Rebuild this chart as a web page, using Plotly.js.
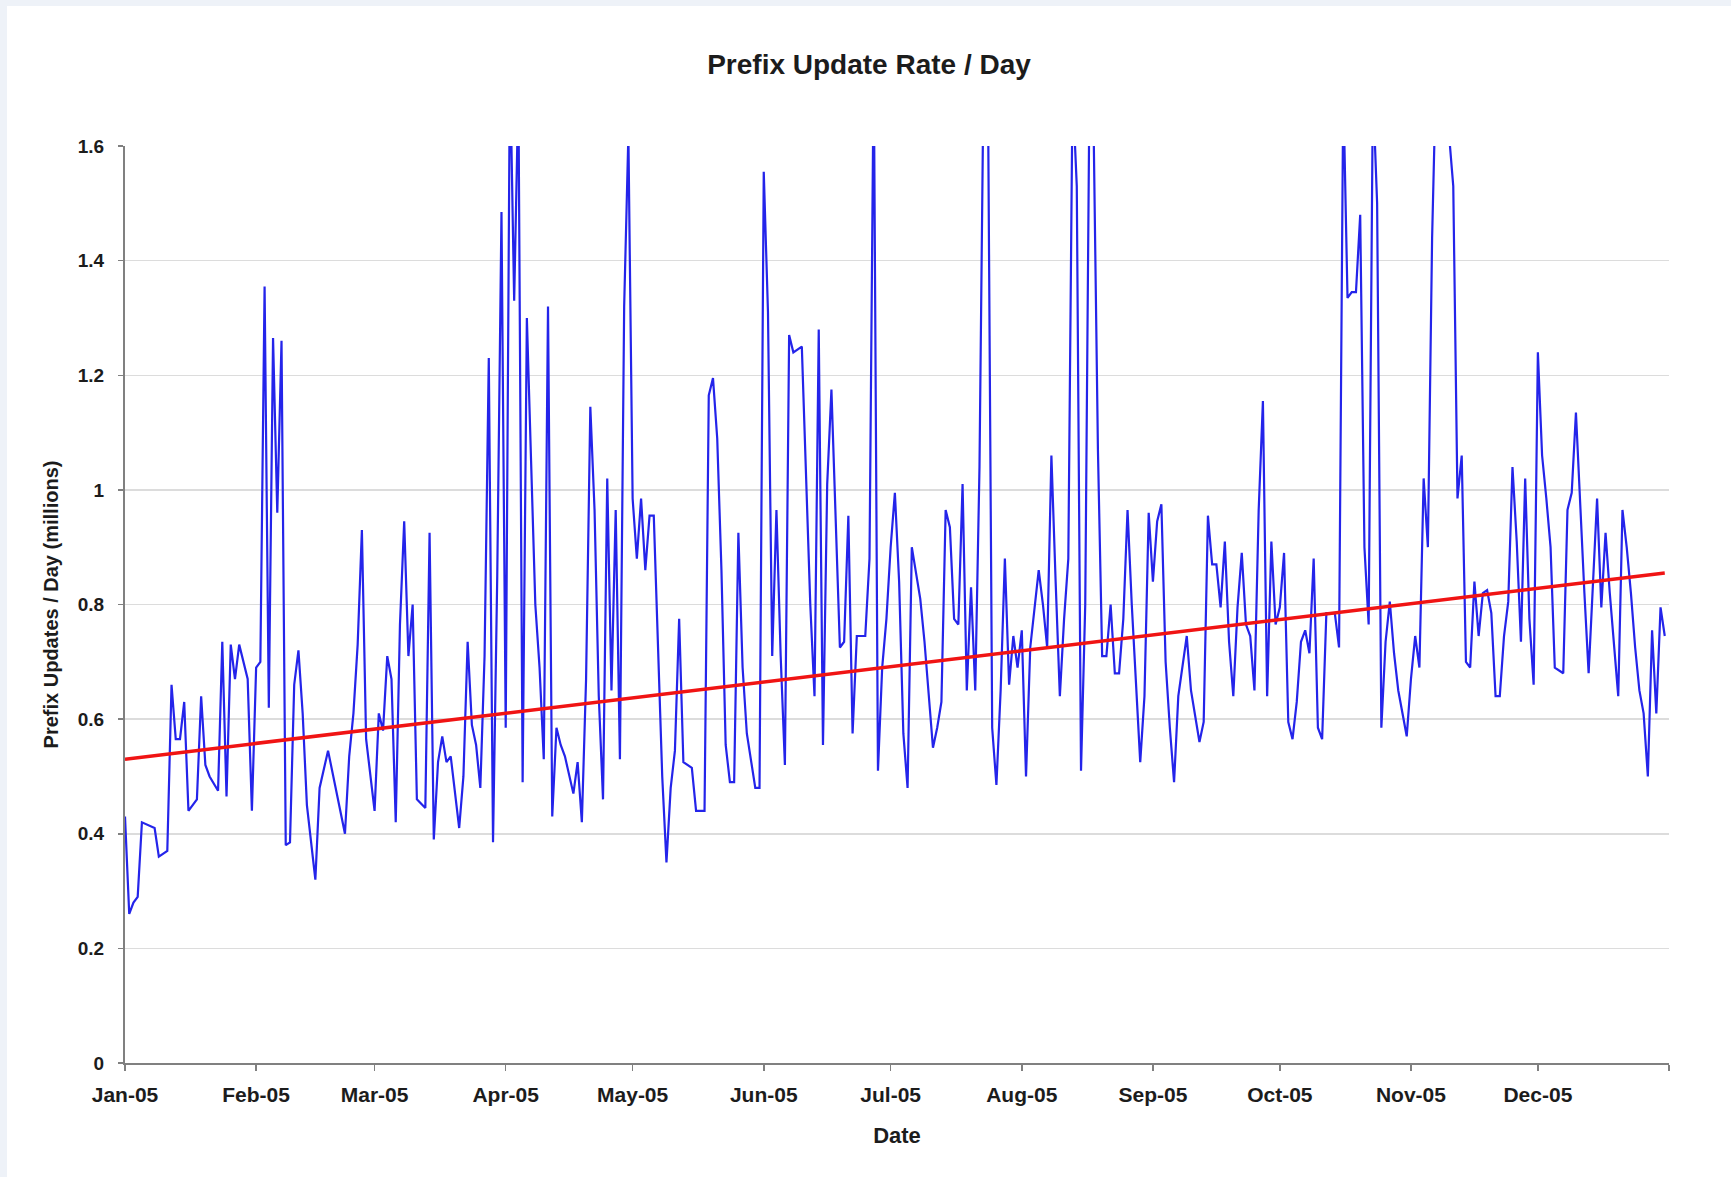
<!DOCTYPE html>
<html><head><meta charset="utf-8">
<script src="https://cdn.plot.ly/plotly-3.0.1.min.js"></script>
<style>
html,body{margin:0;padding:0;background:#eef2f8;width:1731px;height:1177px;overflow:hidden}
#chart{position:absolute;left:7px;top:6px;width:1724px;height:1171px;background:#fff}
</style>
</head><body><div id="chart"></div>
<script>
// Day offsets from 1 Jan 2005 and the daily prefix update rate (millions)
const dayOffsets = [0,1,2,3,4,7,8,10,11,12,13,14,15,17,18,19,20,22,23,24,25,26,27,29,30,31,32,33,34,35,36,37,38,39,40,41,42,43,45,46,48,52,53,54,55,56,57,59,60,61,62,63,64,65,66,67,68,69,71,72,73,74,75,76,77,79,80,81,82,83,84,85,86,87,88,89,90,91,92,93,94,95,96,97,98,99,100,101,102,103,104,106,107,108,109,110,111,112,113,114,115,116,117,118,119,120,121,122,123,124,125,126,127,128,129,130,131,132,134,135,137,138,139,140,141,142,143,144,145,146,147,149,150,151,152,153,154,155,156,157,158,160,161,162,163,164,165,166,167,168,169,170,171,172,173,175,176,177,178,179,180,181,182,183,184,185,186,188,189,191,192,193,194,195,196,197,198,199,200,201,202,203,204,205,206,207,208,209,210,211,212,213,214,216,217,218,219,220,221,222,223,224,225,226,227,228,229,230,231,232,233,234,235,236,237,238,240,241,242,243,244,245,246,247,248,249,251,252,254,255,256,257,258,259,260,261,262,263,264,265,266,267,268,269,270,271,272,273,274,275,276,277,278,279,280,281,282,283,284,286,287,288,289,290,291,292,293,294,295,296,297,298,299,300,301,303,304,305,306,307,308,309,310,311,312,313,314,315,316,317,318,319,320,321,322,323,324,325,326,327,328,329,330,331,332,333,334,335,336,337,338,340,341,342,343,344,345,346,347,348,349,350,351,352,353,354,355,356,357,358,359,360,361,362,363,364];
const updates = [0.43,0.26,0.28,0.29,0.42,0.41,0.36,0.37,0.66,0.565,0.565,0.63,0.44,0.46,0.64,0.52,0.50,0.475,0.735,0.465,0.73,0.67,0.73,0.67,0.44,0.69,0.70,1.355,0.62,1.265,0.96,1.26,0.38,0.385,0.66,0.72,0.61,0.45,0.32,0.48,0.545,0.40,0.535,0.61,0.73,0.93,0.565,0.44,0.61,0.58,0.71,0.67,0.42,0.765,0.945,0.71,0.80,0.46,0.445,0.925,0.39,0.525,0.57,0.525,0.535,0.41,0.50,0.735,0.59,0.555,0.48,0.71,1.23,0.385,0.85,1.485,0.585,1.75,1.33,1.7,0.49,1.30,1.05,0.80,0.69,0.53,1.32,0.43,0.585,0.555,0.535,0.47,0.525,0.42,0.67,1.145,0.965,0.64,0.46,1.02,0.65,0.965,0.53,1.32,1.62,0.985,0.88,0.985,0.86,0.955,0.955,0.735,0.50,0.35,0.48,0.545,0.775,0.525,0.515,0.44,0.44,1.165,1.195,1.09,0.86,0.555,0.49,0.49,0.925,0.69,0.575,0.48,0.48,1.555,1.31,0.71,0.965,0.71,0.52,1.27,1.24,1.25,1.01,0.80,0.64,1.28,0.555,1.01,1.175,0.965,0.725,0.735,0.955,0.575,0.745,0.745,0.88,1.75,0.51,0.69,0.775,0.90,0.995,0.84,0.575,0.48,0.90,0.81,0.735,0.55,0.585,0.63,0.965,0.935,0.775,0.765,1.01,0.65,0.83,0.65,1.04,1.75,1.7,0.585,0.485,0.65,0.88,0.66,0.745,0.69,0.755,0.50,0.725,0.86,0.80,0.725,1.06,0.84,0.64,0.775,0.88,1.7,1.53,0.51,0.80,1.7,1.62,1.07,0.71,0.71,0.80,0.68,0.68,0.775,0.965,0.80,0.525,0.64,0.96,0.84,0.945,0.975,0.70,0.585,0.49,0.64,0.745,0.65,0.56,0.595,0.955,0.87,0.87,0.795,0.91,0.735,0.64,0.795,0.89,0.765,0.745,0.65,0.965,1.155,0.64,0.91,0.765,0.795,0.89,0.595,0.565,0.63,0.735,0.755,0.715,0.88,0.585,0.565,0.785,0.785,0.725,1.7,1.335,1.345,1.345,1.48,0.90,0.765,1.7,1.50,0.585,0.735,0.805,0.715,0.65,0.57,0.67,0.745,0.69,1.02,0.90,1.44,1.75,1.8,1.7,1.62,1.53,0.985,1.06,0.70,0.69,0.84,0.745,0.82,0.825,0.785,0.64,0.64,0.745,0.805,1.04,0.91,0.735,1.02,0.775,0.66,1.24,1.06,0.985,0.90,0.69,0.68,0.965,0.995,1.135,0.965,0.82,0.68,0.83,0.985,0.795,0.925,0.82,0.725,0.64,0.965,0.90,0.82,0.725,0.65,0.61,0.50,0.755,0.61,0.795,0.745];
// Linear trend line end points
const trendDates = ['2005-01-01', '2005-12-31'];
const trendValues = [0.53, 0.855];
// Month ticks
const monthTicks = ['2005-01-01','2005-02-01','2005-03-01','2005-04-01','2005-05-01','2005-06-01','2005-07-01','2005-08-01','2005-09-01','2005-10-01','2005-11-01','2005-12-01','2006-01-01'];
const monthLabels = ['Jan-05','Feb-05','Mar-05','Apr-05','May-05','Jun-05','Jul-05','Aug-05','Sep-05','Oct-05','Nov-05','Dec-05',''];
const yTicks = [0,0.2,0.4,0.6,0.8,1,1.2,1.4,1.6];
const yLabels = ['0','0.2','0.4','0.6','0.8','1','1.2','1.4','1.6'];

const dates = dayOffsets.map(d => new Date(Date.UTC(2005, 0, 1 + d)).toISOString().slice(0, 10));

const FONT = 'Liberation Sans, Arial, Helvetica, sans-serif';
const TXT = '#1c1c1c';

const traces = [
  {x: dates, y: updates, type: 'scatter', mode: 'lines',
   line: {color: '#2424ea', width: 2.2}, hoverinfo: 'skip'},
  {x: trendDates, y: trendValues, type: 'scatter', mode: 'lines',
   line: {color: '#f01414', width: 3.5}, hoverinfo: 'skip'}
];

const layout = {
  width: 1724, height: 1171,
  paper_bgcolor: '#ffffff', plot_bgcolor: '#ffffff',
  showlegend: false,
  margin: {l: 118, r: 62, t: 140, b: 114, pad: 0},
  font: {family: FONT, color: TXT},
  title: {text: 'Prefix Update Rate / Day', x: 0.5, xref: 'container', xanchor: 'center',
          y: 1 - 58/1171, yref: 'container', yanchor: 'middle',
          font: {family: FONT, size: 28, weight: 'bold', color: TXT}},
  xaxis: {
    type: 'date', range: ['2005-01-01', '2006-01-01'],
    tickmode: 'array', tickvals: monthTicks, ticktext: monthLabels,
    ticks: 'outside', ticklen: 6, tickwidth: 1.5, tickcolor: '#808080',
    showline: true, linecolor: '#808080', linewidth: 2,
    showgrid: false, zeroline: false,
    tickfont: {family: FONT, size: 21, weight: 'bold', color: TXT},
    ticklabelstandoff: 6,
    title: {text: 'Date', font: {family: FONT, size: 22, weight: 'bold', color: TXT}, standoff: 22}
  },
  yaxis: {
    range: [0, 1.6], tickmode: 'array', tickvals: yTicks, ticktext: yLabels,
    ticks: 'outside', ticklen: 5, tickwidth: 1.5, tickcolor: '#808080',
    showline: true, linecolor: '#808080', linewidth: 2,
    showgrid: true, gridcolor: '#dcdcdc', gridwidth: 1.5, zeroline: false,
    tickfont: {family: FONT, size: 19, weight: 'bold', color: TXT},
    ticklabelstandoff: 10,
    title: {text: 'Prefix Updates / Day (millions)', font: {family: FONT, size: 20, weight: 'bold', color: TXT}, standoff: 14}
  }
};

Plotly.newPlot('chart', traces, layout, {displayModeBar: false, staticPlot: true});
</script>
</body></html>
